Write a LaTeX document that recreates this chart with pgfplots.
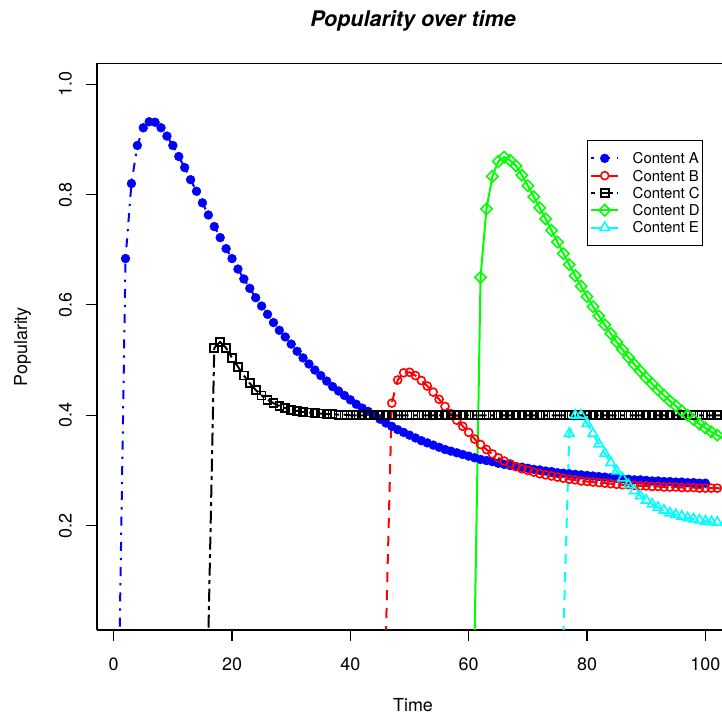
\documentclass[border=0pt]{standalone}
\usepackage{fontspec}
\setmainfont{TeX Gyre Heros}
\usepackage{pgfplots}
\pgfplotsset{compat=1.18}
\definecolor{rcyan}{RGB}{0,255,255}
\definecolor{rgreen}{RGB}{0,255,0}
\definecolor{rblue}{RGB}{0,0,255}
\definecolor{rred}{RGB}{255,0,0}
\begin{document}
\begin{tikzpicture}
\begin{axis}[
  name=ax,
  at={(97bp,85bp)}, anchor=south west,
  scale only axis, width=625bp, height=566.7bp,
  xmin=-2.82, xmax=102.81, ymin=0.0109, ymax=1.0379,
  axis x line*=bottom, axis y line*=left,
  xtick pos=left, ytick pos=left,
  xtick={0,20,40,60,80,100}, xticklabels={0,20,40,60,80,100},
  ytick={0.2,0.4,0.6,0.8,1.0}, yticklabels={0.2,0.4,0.6,0.8,1.0},
  minor tick num=0,
  tick align=outside, major tick length=11bp,
  tick style={black, line width=1.1bp},
  axis line style={black, line width=1.1bp},
  ticklabel style={font=\fontsize{18}{20}\selectfont, inner sep=0pt},
  xticklabel style={anchor=north},
  yticklabel style={rotate=90, anchor=south},
  xticklabel shift=17bp, yticklabel shift=14bp,
  legend style={at={(rel axis cs:0.7835,0.8647)}, anchor=north west,
    draw=black, line width=1.1bp, inner xsep=3bp, inner ysep=9.2bp,
    font=\fontsize{15}{17}\selectfont, row sep=0pt, column sep=13.5bp,
    nodes={inner xsep=0pt, inner ysep=0pt, text height=14bp, text depth=3.3bp}},
  legend cell align=left,
  legend image code/.code={\draw[mark repeat=2,mark phase=2,#1] plot coordinates {(0bp,0bp) (13.5bp,0bp) (27bp,0bp)};},
]
\addplot[rblue, line width=2bp, dash pattern=on 2.3bp off 7bp on 9bp off 7bp,
  mark=*, mark size=4.4bp, mark options={solid, fill=rblue, draw=rblue, line width=0.5bp}]
coordinates {(1,0)(2,0.684)(3,0.820)(4,0.889)(5,0.921)(6,0.932)(7,0.931)(8,0.921)(9,0.906)(10,0.889)(11,0.869)(12,0.849)(13,0.827)(14,0.806)(15,0.785)(16,0.763)(17,0.742)(18,0.722)(19,0.702)(20,0.684)(21,0.665)(22,0.647)(23,0.630)(24,0.613)(25,0.598)(26,0.583)(27,0.568)(28,0.554)(29,0.542)(30,0.529)(31,0.516)(32,0.504)(33,0.493)(34,0.482)(35,0.472)(36,0.462)(37,0.452)(38,0.444)(39,0.436)(40,0.428)(41,0.420)(42,0.413)(43,0.407)(44,0.400)(45,0.393)(46,0.386)(47,0.380)(48,0.374)(49,0.369)(50,0.364)(51,0.359)(52,0.354)(53,0.350)(54,0.346)(55,0.342)(56,0.338)(57,0.335)(58,0.332)(59,0.329)(60,0.326)(61,0.323)(62,0.320)(63,0.318)(64,0.316)(65,0.313)(66,0.311)(67,0.309)(68,0.307)(69,0.306)(70,0.304)(71,0.302)(72,0.301)(73,0.299)(74,0.298)(75,0.296)(76,0.295)(77,0.294)(78,0.293)(79,0.292)(80,0.291)(81,0.290)(82,0.289)(83,0.288)(84,0.287)(85,0.286)(86,0.285)(87,0.284)(88,0.283)(89,0.283)(90,0.282)(91,0.281)(92,0.281)(93,0.280)(94,0.280)(95,0.279)(96,0.279)(97,0.278)(98,0.278)(99,0.277)(100,0.277)};
\addlegendentry{Content A}
\addplot[rred, line width=2bp, dash pattern=on 10bp off 8bp,
  mark=o, mark size=4bp, mark options={solid, line width=1.6bp}]
coordinates {(46,0)(47,0.422)(48,0.464)(49,0.477)(50,0.478)(51,0.472)(52,0.463)(53,0.453)(54,0.442)(55,0.429)(56,0.416)(57,0.403)(58,0.391)(59,0.380)(60,0.369)(61,0.357)(62,0.347)(63,0.338)(64,0.330)(65,0.323)(66,0.317)(67,0.312)(68,0.307)(69,0.303)(70,0.300)(71,0.297)(72,0.294)(73,0.292)(74,0.290)(75,0.288)(76,0.286)(77,0.284)(78,0.283)(79,0.281)(80,0.280)(81,0.279)(82,0.278)(83,0.277)(84,0.276)(85,0.275)(86,0.274)(87,0.274)(88,0.273)(89,0.272)(90,0.272)(91,0.271)(92,0.271)(93,0.270)(94,0.270)(95,0.270)(96,0.269)(97,0.269)(98,0.269)(99,0.268)(100,0.268)(101,0.268)(102,0.268)(103,0.267)};
\addlegendentry{Content B}
\addplot[black, line width=2bp, dash pattern=on 4bp off 4.5bp on 13bp off 4.5bp,
  mark=square, mark size=4bp, mark options={solid, line width=1.7bp}]
coordinates {(16,0)(17,0.522)(18,0.533)(19,0.522)(20,0.504)(21,0.488)(22,0.472)(23,0.458)(24,0.446)(25,0.436)(26,0.428)(27,0.422)(28,0.417)(29,0.413)(30,0.410)(31,0.408)(32,0.406)(33,0.405)(34,0.404)(35,0.403)(36,0.402)(37,0.402)(38,0.401)(39,0.401)(40,0.400)(41,0.400)(42,0.400)(43,0.400)(44,0.400)(45,0.400)(46,0.400)(47,0.400)(48,0.400)(49,0.400)(50,0.400)(51,0.400)(52,0.400)(53,0.400)(54,0.400)(55,0.400)(56,0.400)(57,0.400)(58,0.400)(59,0.400)(60,0.400)(61,0.400)(62,0.400)(63,0.400)(64,0.400)(65,0.400)(66,0.400)(67,0.400)(68,0.400)(69,0.400)(70,0.400)(71,0.400)(72,0.400)(73,0.400)(74,0.400)(75,0.400)(76,0.400)(77,0.400)(78,0.400)(79,0.400)(80,0.400)(81,0.400)(82,0.400)(83,0.400)(84,0.400)(85,0.400)(86,0.400)(87,0.400)(88,0.400)(89,0.400)(90,0.400)(91,0.400)(92,0.400)(93,0.400)(94,0.400)(95,0.400)(96,0.400)(97,0.400)(98,0.400)(99,0.400)(100,0.400)(101,0.400)(102,0.400)(103,0.400)};
\addlegendentry{Content C}
\addplot[rgreen, line width=2bp, solid,
  mark=square, mark size=4bp, mark options={solid, rotate=45, line width=1.6bp}]
coordinates {(61,0)(62,0.650)(63,0.774)(64,0.833)(65,0.860)(66,0.868)(67,0.862)(68,0.852)(69,0.835)(70,0.816)(71,0.796)(72,0.776)(73,0.756)(74,0.735)(75,0.714)(76,0.693)(77,0.673)(78,0.653)(79,0.634)(80,0.615)(81,0.597)(82,0.580)(83,0.564)(84,0.548)(85,0.533)(86,0.519)(87,0.505)(88,0.492)(89,0.480)(90,0.468)(91,0.457)(92,0.446)(93,0.436)(94,0.426)(95,0.417)(96,0.408)(97,0.400)(98,0.392)(99,0.384)(100,0.377)(101,0.370)(102,0.364)(103,0.358)};
\addlegendentry{Content D}
\addplot[rcyan, line width=2bp, dash pattern=on 10bp off 8bp,
  mark=triangle, mark size=5.5bp, mark options={solid, line width=1.6bp}]
coordinates {(76,0)(77,0.367)(78,0.400)(79,0.400)(80,0.385)(81,0.367)(82,0.348)(83,0.331)(84,0.314)(85,0.299)(86,0.286)(87,0.274)(88,0.263)(89,0.254)(90,0.246)(91,0.239)(92,0.233)(93,0.228)(94,0.223)(95,0.220)(96,0.217)(97,0.214)(98,0.212)(99,0.210)(100,0.208)(101,0.207)(102,0.206)(103,0.205)};
\addlegendentry{Content E}
\end{axis}
\draw[line width=1.1bp] (ax.north west) -- (ax.north east);
\node[font=\bfseries\itshape\fontsize{21.6}{26}\selectfont, anchor=base] at (413bp,688bp) {Popularity over time};
\node[font=\fontsize{18}{20}\selectfont, anchor=base] at (413bp,4bp) {Time};
\node[font=\fontsize{18}{20}\selectfont, rotate=90, anchor=base] at (27bp,368.3bp) {Popularity};
\pgfresetboundingbox
\path[use as bounding box] (0,0) rectangle (722bp,715bp);
\end{tikzpicture}
\end{document}
